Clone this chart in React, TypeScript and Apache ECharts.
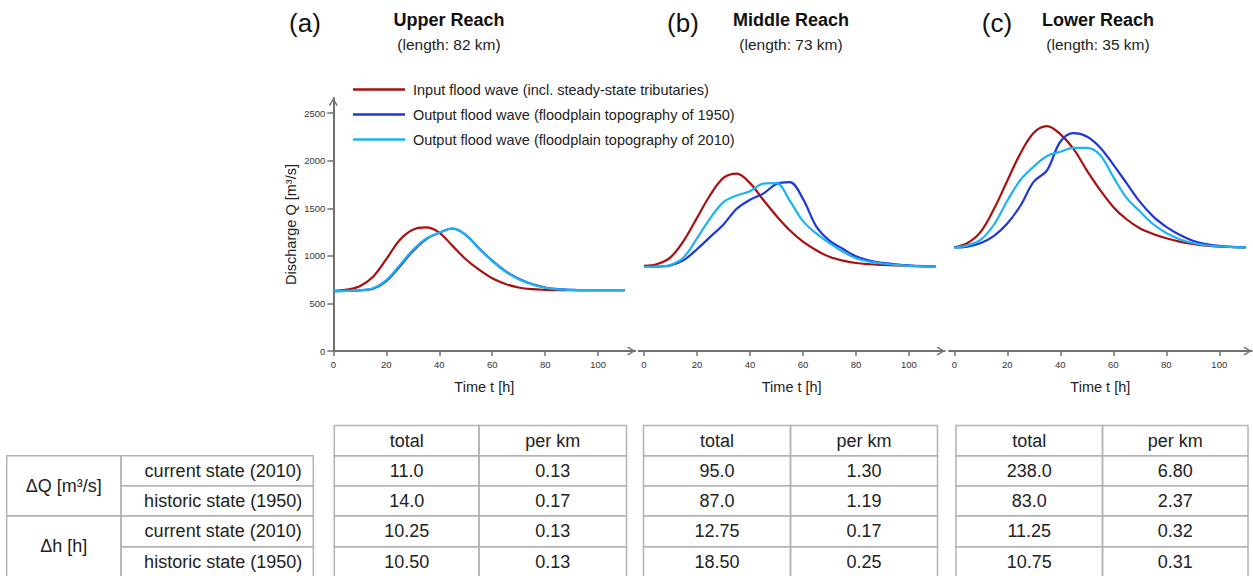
import React, { useEffect, useRef } from "react";
import * as echarts from "echarts";

// ---------- data ----------
const hours = [0, 5, 10, 15, 20, 25, 30, 35, 40, 45, 50, 55, 60, 65, 70, 75, 80, 85, 90, 95, 100, 105, 110];

const upperInput = [630, 645, 680, 780, 965, 1165, 1275, 1300, 1245, 1105, 965, 855, 765, 705, 668, 650, 643, 640, 640, 640, 640, 640, 640];
const upperOut1950 = [630, 632, 638, 655, 735, 885, 1050, 1175, 1243, 1288, 1222, 1080, 950, 840, 760, 704, 668, 650, 643, 640, 640, 640, 640];
const upperOut2010 = [630, 632, 640, 660, 745, 900, 1062, 1182, 1245, 1290, 1218, 1075, 945, 835, 755, 700, 665, 648, 642, 640, 640, 640, 640];

const middleInput = [895, 915, 985, 1160, 1400, 1640, 1820, 1865, 1765, 1590, 1420, 1270, 1150, 1060, 990, 950, 925, 912, 905, 900, 895, 892, 890];
const middleOut1950 = [885, 888, 900, 955, 1070, 1200, 1330, 1495, 1590, 1655, 1755, 1775, 1600, 1310, 1160, 1075, 995, 950, 927, 912, 900, 892, 888];
const middleOut2010 = [885, 888, 905, 985, 1185, 1395, 1565, 1635, 1680, 1760, 1765, 1580, 1365, 1236, 1135, 1045, 975, 940, 920, 905, 895, 890, 888];

const lowerInput = [1090, 1135, 1255, 1495, 1790, 2080, 2295, 2365, 2280, 2125, 1900, 1695, 1515, 1385, 1290, 1230, 1185, 1150, 1125, 1108, 1098, 1093, 1090];
const lowerOut1950 = [1088, 1098, 1135, 1210, 1340, 1530, 1780, 1900, 2200, 2290, 2255, 2140, 1960, 1765, 1570, 1415, 1305, 1222, 1160, 1125, 1105, 1095, 1090];
const lowerOut2010 = [1088, 1110, 1170, 1330, 1580, 1800, 1940, 2050, 2095, 2135, 2135, 2060, 1830, 1610, 1470, 1335, 1240, 1175, 1135, 1112, 1100, 1093, 1090];

const seriesNames = [
  "Input flood wave (incl. steady-state tributaries)",
  "Output flood wave (floodplain topography of 1950)",
  "Output flood wave (floodplain topography of 2010)",
];
const panelLetters = ["(a)", "(b)", "(c)"];
const reachTitles = ["Upper Reach", "Middle Reach", "Lower Reach"];
const reachLengths = ["(length: 82 km)", "(length: 73 km)", "(length: 35 km)"];

const xTicks = [0, 20, 40, 60, 80, 100];
const yTicks = [0, 500, 1000, 1500, 2000, 2500];

const groupLabels = ["ΔQ [m³/s]", "Δh [h]"];
const rowLabels = ["current state (2010)", "historic state (1950)", "current state (2010)", "historic state (1950)"];
const tableHeaders = ["total", "per km"];
const upperTotal = ["11.0", "14.0", "10.25", "10.50"];
const upperPerKm = ["0.13", "0.17", "0.13", "0.13"];
const middleTotal = ["95.0", "87.0", "12.75", "18.50"];
const middlePerKm = ["1.30", "1.19", "0.17", "0.25"];
const lowerTotal = ["238.0", "83.0", "11.25", "10.75"];
const lowerPerKm = ["6.80", "2.37", "0.32", "0.31"];

// ---------- styles ----------
const COLORS = ["#A8100F", "#1F36D8", "#1DB3F2"];
const AXIS = "#707070";
const FONT = "'Liberation Sans', Arial, Helvetica, sans-serif";
const BORDER = "#b3b3b3";
const ARROW = "path://M0,8 L5,0 L10,8 L8.6,9 L5,2.6 L1.4,9 Z";

const panels = [
  { values: [upperInput, upperOut1950, upperOut2010], left: 333.3, width: 302, min: 0, max: 114, showY: true },
  { values: [middleInput, middleOut1950, middleOut2010], left: 638.7, width: 306, min: -2, max: 113.5, showY: false },
  { values: [lowerInput, lowerOut1950, lowerOut2010], left: 949, width: 302.6, min: -2, max: 112.2, showY: false },
];
const tables = [
  { cols: [334.3, 479, 626.5], total: upperTotal, perKm: upperPerKm },
  { cols: [643.5, 790.5, 937.5], total: middleTotal, perKm: middlePerKm },
  { cols: [956, 1102.5, 1248], total: lowerTotal, perKm: lowerPerKm },
];
const titleCenters = [
  { letter: 305, title: 449 },
  { letter: 683, title: 791 },
  { letter: 997, title: 1098 },
];
const dataRows = [455.7, 485.7, 515.7, 546.7, 577];
const headerTop = 425.5;
const labelCols = [6.7, 121, 313.3];
const TABLE_FONT = `18px ${FONT}`;

function txt(text: string, x: number, y: number, font: string, fill = "#222") {
  return {
    type: "text",
    x,
    y,
    silent: true,
    style: {
      text,
      font,
      fill,
      align: "center",
      verticalAlign: "middle",
      textAlign: "center",
      textVerticalAlign: "middle",
    },
  };
}
function cell(x: number, y: number, w: number, h: number) {
  return {
    type: "rect",
    silent: true,
    shape: { x, y, width: w, height: h },
    style: { fill: "none", stroke: BORDER, lineWidth: 1.5 },
  };
}

export default function App() {
  const ref = useRef<HTMLDivElement>(null);
  useEffect(() => {
    if (!ref.current) return;
    const chart = echarts.init(ref.current, null, { renderer: "svg" });

    const grids = panels.map((p) => ({ left: p.left, top: 98, width: p.width, height: 253 }));
    const axisLine = {
      show: true,
      onZero: false,
      symbol: ["none", ARROW],
      symbolSize: [10, 8],
      symbolOffset: [0, -4],
      lineStyle: { color: AXIS, width: 2 },
    };
    const fmt = (v: number) => String(v);
    const xAxes = panels.map((p, i) => ({
      type: "value",
      gridIndex: i,
      min: p.min,
      max: p.max,
      axisLine,
      axisTick: { show: true, length: 5, customValues: xTicks, lineStyle: { color: AXIS, width: 1.5 } },
      axisLabel: { customValues: xTicks, formatter: fmt, fontSize: 9.5, color: "#333", margin: 8, fontFamily: FONT },
      splitLine: { show: false },
      name: "Time t [h]",
      nameLocation: "middle",
      nameGap: 28,
      nameTextStyle: { fontSize: 14.5, color: "#222", fontFamily: FONT },
    }));
    const yAxes = panels.map((p, i) => ({
      type: "value",
      gridIndex: i,
      show: p.showY,
      min: 0,
      max: 2660,
      axisLine,
      axisTick: { show: true, length: 6, customValues: yTicks, lineStyle: { color: AXIS, width: 1.5 } },
      axisLabel: { customValues: yTicks, formatter: fmt, fontSize: 9.5, color: "#333", margin: 8, fontFamily: FONT },
      splitLine: { show: false },
      name: p.showY ? "Discharge Q [m³/s]" : "",
      nameLocation: "middle",
      nameGap: 35,
      nameTextStyle: { fontSize: 14.5, color: "#222", fontFamily: FONT },
    }));

    const series: any[] = [];
    panels.forEach((p, i) => {
      p.values.forEach((vals, k) => {
        series.push({
          type: "line",
          name: seriesNames[k],
          xAxisIndex: i,
          yAxisIndex: i,
          data: hours.map((h, j) => [h, vals[j]]),
          smooth: 0.35,
          showSymbol: false,
          symbol: "none",
          lineStyle: { color: COLORS[k], width: 2.2 },
          itemStyle: { color: COLORS[k] },
          z: 3 + k,
        });
      });
    });

    const graphics: any[] = [];
    titleCenters.forEach((c, i) => {
      graphics.push(txt(panelLetters[i], c.letter, 23, `26px ${FONT}`, "#111"));
      graphics.push(txt(reachTitles[i], c.title, 20, `bold 18px ${FONT}`, "#111"));
      graphics.push(txt(reachLengths[i], c.title, 44, `15.5px ${FONT}`, "#222"));
    });
    // row label table
    const [l0, l1, l2] = labelCols;
    groupLabels.forEach((g, gi) => {
      const y0 = dataRows[gi * 2];
      const y1 = dataRows[gi * 2 + 2];
      graphics.push(cell(l0, y0, l1 - l0, y1 - y0));
      graphics.push(txt(g, (l0 + l1) / 2, (y0 + y1) / 2, TABLE_FONT));
    });
    rowLabels.forEach((r, ri) => {
      const y0 = dataRows[ri];
      const y1 = dataRows[ri + 1];
      graphics.push(cell(l1, y0, l2 - l1, y1 - y0));
      graphics.push(txt(r, (l1 + l2) / 2 + 6, (y0 + y1) / 2, TABLE_FONT));
    });
    // value tables
    tables.forEach((t) => {
      const [c0, c1, c2] = t.cols;
      const rows = [headerTop, ...dataRows];
      const colsVals = [[tableHeaders[0], ...t.total], [tableHeaders[1], ...t.perKm]];
      colsVals.forEach((vals, ci) => {
        const x0 = ci === 0 ? c0 : c1;
        const x1 = ci === 0 ? c1 : c2;
        vals.forEach((v, ri) => {
          const y0 = rows[ri];
          const y1 = rows[ri + 1];
          graphics.push(cell(x0, y0, x1 - x0, y1 - y0));
          graphics.push(txt(v, (x0 + x1) / 2, (y0 + y1) / 2, TABLE_FONT));
        });
      });
    });

    chart.setOption({
      animation: false,
      backgroundColor: "#ffffff",
      textStyle: { fontFamily: FONT },
      grid: grids,
      xAxis: xAxes,
      yAxis: yAxes,
      legend: {
        show: true,
        orient: "vertical",
        left: 353,
        top: 81,
        padding: 0,
        itemWidth: 52,
        itemHeight: 2.5,
        itemGap: 8,
        icon: "rect",
        data: seriesNames,
        textStyle: { fontSize: 14.5, color: "#222", lineHeight: 17, padding: [0, 0, 0, 3], fontFamily: FONT },
      },
      series,
      graphic: graphics,
    });
    return () => chart.dispose();
  }, []);
  return (
    <div
      ref={ref}
      style={{ position: "fixed", left: 0, top: 0, width: 1253, height: 576, background: "#fff" }}
    />
  );
}
